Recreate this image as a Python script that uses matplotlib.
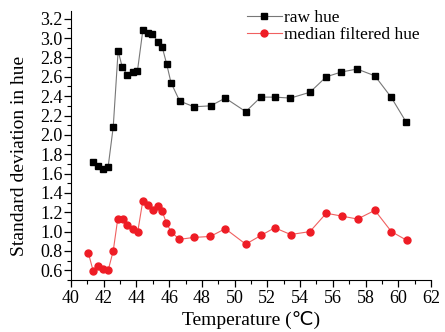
import matplotlib.pyplot as plt
from matplotlib.ticker import MultipleLocator

# raw hue (black squares)
raw_t = [41.36, 41.62, 41.97, 42.27, 42.58, 42.88, 43.13, 43.45, 43.76, 44.06,
         44.39, 44.69, 44.98, 45.32, 45.57, 45.85, 46.11, 46.64, 47.51, 48.53,
         49.43, 50.68, 51.6, 52.45, 53.41, 54.6, 55.6, 56.53, 57.49, 58.57,
         59.56, 60.49]
raw_sd = [1.72, 1.68, 1.645, 1.67, 2.08, 2.87, 2.70, 2.62, 2.65, 2.66,
          3.08, 3.05, 3.04, 2.96, 2.91, 2.73, 2.54, 2.35, 2.29, 2.30,
          2.38, 2.24, 2.39, 2.39, 2.38, 2.44, 2.60, 2.65, 2.68, 2.61,
          2.39, 2.13]

# median filtered hue (red circles)
med_t = [41.06, 41.36, 41.65, 41.97, 42.27, 42.58, 42.86, 43.17, 43.45, 43.76,
         44.08, 44.39, 44.71, 45.0, 45.30, 45.57, 45.83, 46.11, 46.62, 47.51,
         48.51, 49.43, 50.68, 51.6, 52.45, 53.42, 54.6, 55.6, 56.56, 57.51,
         58.57, 59.58, 60.52]
med_sd = [0.78, 0.59, 0.64, 0.61, 0.60, 0.80, 1.135, 1.135, 1.07, 1.03,
          1.00, 1.32, 1.27, 1.22, 1.265, 1.21, 1.09, 1.00, 0.92, 0.94,
          0.95, 1.03, 0.87, 0.96, 1.04, 0.97, 1.00, 1.19, 1.16, 1.13,
          1.22, 1.00, 0.91]

plt.rcParams['font.family'] = ['Liberation Serif', 'DejaVu Serif']

fig = plt.figure(figsize=(4.45, 3.32), dpi=100)
ax = fig.add_axes([71 / 445, 1 - 280 / 332, 360 / 445, 269 / 332])

ax.plot(raw_t, raw_sd, color='#777777', lw=0.8, marker='s', ms=5,
        mfc='black', mec='black', label='raw hue')
ax.plot(med_t, med_sd, color='#f06060', lw=0.8, marker='o', ms=5,
        mfc='#ee1c25', mec='#ee1c25', label='median filtered hue')

ax.set_xlim(40, 62)
ax.set_ylim(0.5, 3.28)
ax.xaxis.set_major_locator(MultipleLocator(2))
ax.xaxis.set_minor_locator(MultipleLocator(1))
ax.yaxis.set_minor_locator(MultipleLocator(0.1))
ax.set_yticks([0.6 + 0.2 * i for i in range(14)])
ax.set_yticklabels(['%.1f' % (0.6 + 0.2 * i) for i in range(14)])

ax.spines['top'].set_visible(False)
ax.spines['right'].set_visible(False)
ax.tick_params(which='major', direction='out', length=5, width=0.9, labelsize=13)
ax.tick_params(which='minor', direction='out', length=3, width=0.8)
ax.tick_params(axis='y', pad=1)
ax.tick_params(axis='x', pad=2)

ax.set_xlabel('Temperature (℃)', fontsize=14, labelpad=3,
              family=['Liberation Serif', 'DejaVu Sans'])
ax.set_ylabel('Standard deviation in hue', fontsize=14)
ax.yaxis.set_label_coords(-0.12, 0.46)

ax.legend(loc='upper left', bbox_to_anchor=(247 / 445, 1 - 10 / 332),
          bbox_transform=fig.transFigure, frameon=False, fontsize=12.5,
          handlelength=2.0, handletextpad=0.15, labelspacing=0.05,
          borderpad=0, borderaxespad=0)

fig.savefig('out.png', dpi=100)
